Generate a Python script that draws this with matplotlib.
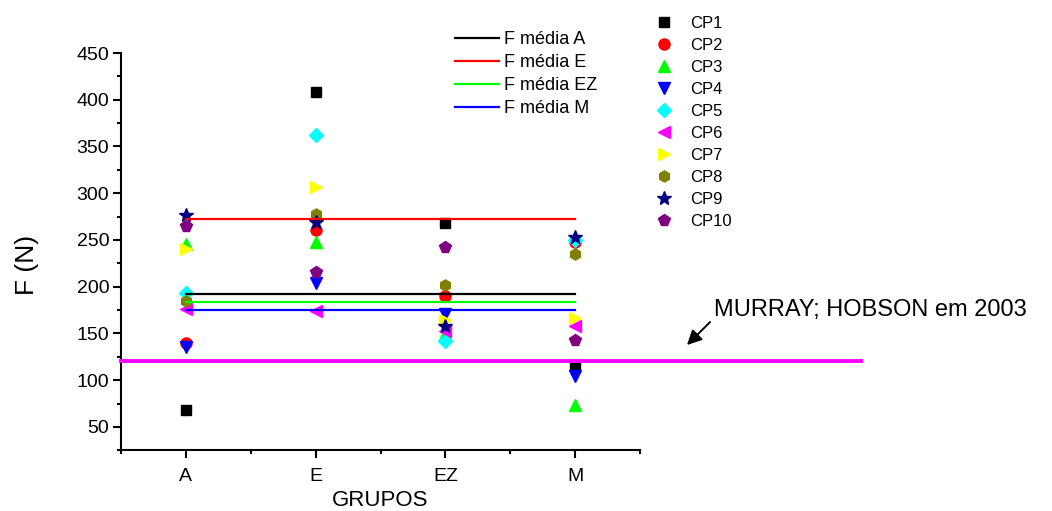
import matplotlib
matplotlib.use("Agg")
import matplotlib.pyplot as plt
from matplotlib.ticker import MultipleLocator, FixedLocator

plt.rcParams['font.family'] = ['Liberation Sans', 'DejaVu Sans']

# ---- data ----
groups = ["A", "E", "EZ", "M"]
cp_labels = ["CP1", "CP2", "CP3", "CP4", "CP5", "CP6", "CP7", "CP8", "CP9", "CP10"]
# values per specimen (CP) for groups A, E, EZ, M
cp1 = [68, 408, 268, 116]
cp2 = [140, 260.5, 190, 248]
cp3 = [246, 248, 149, 73.5]
cp4 = [136, 204, 171, 104.5]
cp5 = [193, 362, 142, 250]
cp6 = [176, 174, 153, 158]
cp7 = [240, 306.5, 164, 167]
cp8 = [185, 278, 202, 235]
cp9 = [277, 269.5, 158, 253.5]
cp10 = [265, 216, 242, 143.5]
cp_values = [cp1, cp2, cp3, cp4, cp5, cp6, cp7, cp8, cp9, cp10]

mean_labels = ["F média A", "F média E", "F média EZ", "F média M"]
mean_values = [192.6, 272.6, 183.9, 174.9]
reference_value = 120
reference_label = "MURRAY; HOBSON em 2003"

# ---- styles ----
cp_markers = ["s", "o", "^", "v", "D", "<", ">", "h", "*", "p"]
cp_colors = ["#000000", "#FF0000", "#00FF00", "#0000FF", "#00FFFF",
             "#FF00FF", "#FFFF00", "#808000", "#000080", "#800080"]
cp_sizes = [7, 8, 8, 8, 7, 8, 8, 8, 10, 8.5]
mean_colors = ["#000000", "#FF0000", "#00FF00", "#0000FF"]

fig = plt.figure(figsize=(10.52, 5.11), dpi=100)
ax = fig.add_axes([121 / 1052, 1 - 450.3 / 511, (640 - 121) / 1052, (450.3 - 53) / 511])

x = list(range(1, len(groups) + 1))
cp_handles = []
for vals, lab, mk, col, ms in zip(cp_values, cp_labels, cp_markers, cp_colors, cp_sizes):
    h, = ax.plot(x, vals, linestyle="none", marker=mk, color=col,
                 markeredgecolor=col, markersize=ms, label=lab, zorder=3)
    cp_handles.append(h)

mean_handles = []
for mv, lab, col in zip(mean_values, mean_labels, mean_colors):
    h, = ax.plot([x[0], x[-1]], [mv, mv], color=col, linewidth=1.6, label=lab, zorder=4)
    mean_handles.append(h)

ax.plot([0.5, 6.2], [reference_value, reference_value], color="#FF00FF",
        linewidth=2.8, clip_on=False, zorder=4)

ax.annotate("", xy=(4.862, 137.6), xytext=(5.04, 162.2), annotation_clip=False,
            arrowprops=dict(arrowstyle="-|>", color="black", lw=1.4, mutation_scale=22,
                            shrinkA=0, shrinkB=0))
ax.text(5.07, 168.7, reference_label, fontsize=17, ha="left", va="baseline", clip_on=False)

ax.set_xlim(0.5, 4.5)
ax.set_ylim(25, 450)
ax.set_xticks(x)
ax.set_xticklabels(groups)
ax.xaxis.set_minor_locator(FixedLocator([0.5, 1.5, 2.5, 3.5, 4.5]))
ax.yaxis.set_major_locator(MultipleLocator(50))
ax.yaxis.set_minor_locator(MultipleLocator(25))
ax.set_yticks(list(range(50, 451, 50)))

for s in ["top", "right"]:
    ax.spines[s].set_visible(False)
for s in ["left", "bottom"]:
    ax.spines[s].set_linewidth(1.5)

ax.tick_params(axis="both", which="major", direction="out", length=5.5, width=1.5, labelsize=14)
ax.tick_params(axis="both", which="minor", direction="out", length=2.8, width=1.5)
ax.tick_params(axis="x", which="major", pad=7.5)
ax.tick_params(axis="y", which="major", pad=3)

ax.set_ylabel("F (N)", fontsize=19)
ax.yaxis.set_label_coords(-0.181, 0.466)
ax.yaxis.label.set_va("center")
ax.set_xlabel("GRUPOS", fontsize=16)
ax.xaxis.set_label_coords(0.5, -0.127)
ax.xaxis.label.set_va("center")

leg1 = fig.legend(handles=mean_handles, labels=mean_labels, loc="upper left",
                  bbox_to_anchor=(455 / 1052, 1 - 31 / 511), frameon=False, fontsize=13,
                  handlelength=2.45, handletextpad=0.25, labelspacing=0.33,
                  borderpad=0, borderaxespad=0)
leg2 = fig.legend(handles=cp_handles, labels=cp_labels, loc="upper left",
                  bbox_to_anchor=(656 / 1052, 1 - 16 / 511), frameon=False, fontsize=12,
                  handlelength=1.0, handletextpad=1.05, labelspacing=0.42,
                  borderpad=0, borderaxespad=0)

fig.savefig("out.png", dpi=100)
